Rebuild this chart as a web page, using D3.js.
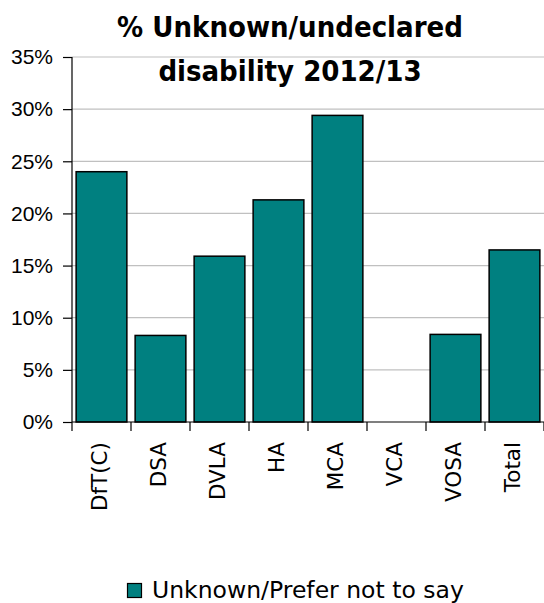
<!DOCTYPE html>
<html>
<head>
<meta charset="utf-8">
<script src="https://cdn.jsdelivr.net/npm/d3@7"></script>
<style>
  html, body { margin: 0; padding: 0; background: #fff; }
  svg { display: block; }
</style>
</head>
<body>
<svg id="chart" width="544" height="603"></svg>
<script>
const categories = ["DfT(C)", "DSA", "DVLA", "HA", "MCA", "VCA", "VOSA", "Total"];
const values = [0.240, 0.083, 0.159, 0.213, 0.294, null, 0.084, 0.165];
const yTicks = [0, 0.05, 0.10, 0.15, 0.20, 0.25, 0.30, 0.35];
const seriesName = "Unknown/Prefer not to say";
const titleLines = ["% Unknown/undeclared", "disability 2012/13"];

const svg = d3.select("#chart");
const plotLeft = 72, plotRight = 544, plotTop = 57, plotBottom = 422;
const barColor = "#008080";
const condensed = "'DejaVu Sans Condensed', 'DejaVu Sans', sans-serif";
const sans = "'DejaVu Sans', sans-serif";

const x = d3.scaleBand().domain(categories).range([plotLeft, plotRight])
  .paddingInner(0.14).paddingOuter(0.07);
const xb = d3.scaleLinear().domain([0, categories.length]).range([plotLeft, plotRight]);
const y = d3.scaleLinear().domain([0, 0.35]).range([plotBottom, plotTop]);

// gridlines
svg.append("g").selectAll("line").data(yTicks.filter(d => d > 0)).join("line")
  .attr("x1", plotLeft).attr("x2", plotRight)
  .attr("y1", d => y(d)).attr("y2", d => y(d))
  .attr("stroke", "#c0c0c0").attr("stroke-width", 1.2);

// bars
svg.append("g").selectAll("rect")
  .data(categories.map((c, i) => ({c, v: values[i]})).filter(d => d.v != null))
  .join("rect")
  .attr("x", d => x(d.c)).attr("width", x.bandwidth())
  .attr("y", d => y(d.v)).attr("height", d => y(0) - y(d.v))
  .attr("fill", barColor).attr("stroke", "#000").attr("stroke-width", 1.5);

// y axis
const yAxis = d3.axisLeft(y).tickValues(yTicks).tickFormat(d3.format(".0%"))
  .tickSize(9).tickPadding(10);
const gy = svg.append("g").attr("transform", `translate(${plotLeft},0)`).call(yAxis);
gy.select(".domain").attr("stroke", "#000").attr("stroke-width", 1.2)
  .attr("d", `M0,${plotTop}V${plotBottom}`);
gy.selectAll(".tick line").attr("stroke", "#000").attr("stroke-width", 1.2);
gy.selectAll(".tick text").attr("font-family", "'Liberation Sans', Arial, sans-serif")
  .attr("font-size", 21).attr("fill", "#000");

// x axis line + boundary ticks
const gx = svg.append("g");
gx.append("line").attr("x1", plotLeft).attr("x2", plotRight).attr("y1", plotBottom).attr("y2", plotBottom)
  .attr("stroke", "#000").attr("stroke-width", 1.2);
gx.selectAll("line.bt").data(d3.range(categories.length + 1)).join("line").attr("class", "bt")
  .attr("x1", d => xb(d)).attr("x2", d => xb(d))
  .attr("y1", plotBottom).attr("y2", plotBottom + 9)
  .attr("stroke", "#000").attr("stroke-width", 1.2);
gx.selectAll("text").data(categories).join("text")
  .attr("transform", d => `translate(${x(d) + x.bandwidth() / 2 - 2},${plotBottom + 20}) rotate(-90)`)
  .attr("text-anchor", "end").attr("dy", "0.36em")
  .attr("font-family", sans).attr("font-size", 21.5).attr("fill", "#000")
  .text(d => d);

// title
svg.append("g").selectAll("text").data(titleLines).join("text")
  .attr("x", 290).attr("y", (d, i) => 37 + i * 44)
  .attr("text-anchor", "middle")
  .attr("font-family", condensed).attr("font-weight", "bold")
  .attr("font-size", 29).attr("fill", "#000")
  .text(d => d);

// legend
const lg = svg.append("g");
lg.append("rect").attr("x", 127.5).attr("y", 583.5).attr("width", 14).attr("height", 14)
  .attr("fill", barColor).attr("stroke", "#000").attr("stroke-width", 1.2);
lg.append("text").attr("x", 152).attr("y", 598)
  .attr("font-family", sans).attr("font-size", 23.5).attr("fill", "#000")
  .text(seriesName);
</script>
</body>
</html>
